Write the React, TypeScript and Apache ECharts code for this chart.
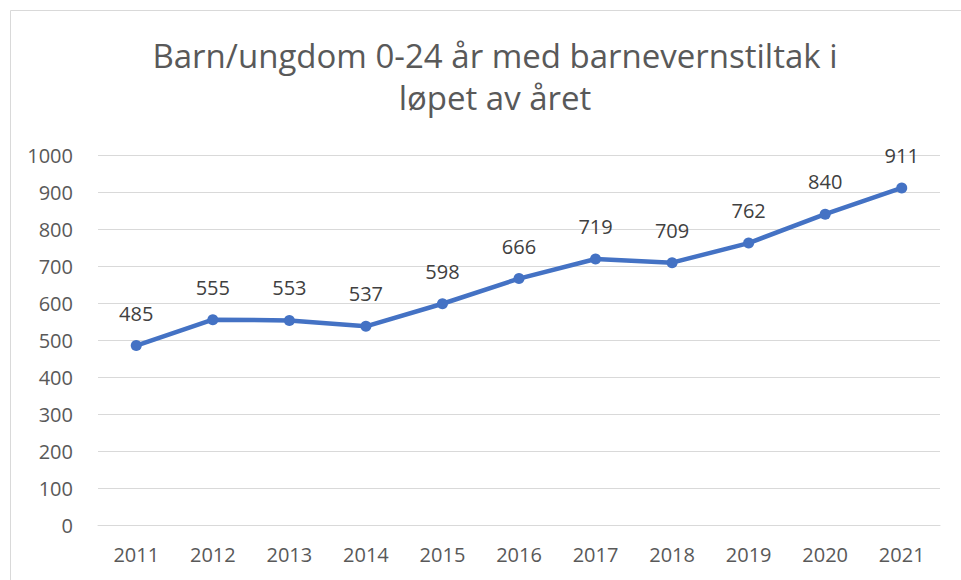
import React, { useEffect, useRef } from "react";
import * as echarts from "echarts";

const titleText = "Barn/ungdom 0-24 år med barnevernstiltak i\nløpet av året";
const years = ["2011", "2012", "2013", "2014", "2015", "2016", "2017", "2018", "2019", "2020", "2021"];
const values = [485, 555, 553, 537, 598, 666, 719, 709, 762, 840, 911];

export default function App() {
  const ref = useRef<HTMLDivElement>(null);
  useEffect(() => {
    document.body.style.margin = "0";
    const chart = echarts.init(ref.current!, null, { renderer: "svg" });
    const font = "'Open Sans', 'Noto Sans', sans-serif";
    chart.setOption({
      animation: false,
      backgroundColor: "#ffffff",
      graphic: [
        {
          type: "rect",
          shape: { x: 10.5, y: 10.5, width: 1000, height: 1000 },
          style: { fill: "none", stroke: "#d9d9d9", lineWidth: 1 },
          silent: true,
        },
      ],
      title: {
        text: titleText,
        left: 490,
        textAlign: "center",
        top: 29,
        textStyle: {
          fontFamily: font,
          fontSize: 33,
          fontWeight: "normal",
          color: "#595959",
          lineHeight: 42,
        },
      },
      grid: { left: 98, right: 21, top: 155, bottom: 55 },
      xAxis: {
        type: "category",
        data: years,
        boundaryGap: true,
        axisLine: { show: true, lineStyle: { color: "#d9d9d9", width: 1 } },
        axisTick: { show: false },
        axisLabel: { color: "#595959", fontSize: 20, fontFamily: font, margin: 19 },
      },
      yAxis: {
        type: "value",
        min: 0,
        max: 1000,
        interval: 100,
        axisLine: { show: false },
        axisTick: { show: false },
        splitLine: { lineStyle: { color: "#d9d9d9", width: 1 } },
        axisLabel: {
          color: "#595959",
          fontSize: 20,
          fontFamily: font,
          margin: 25,
          formatter: (v: number) => String(v),
        },
      },
      series: [
        {
          type: "line",
          data: values,
          symbol: "circle",
          symbolSize: 11,
          lineStyle: { color: "#4472c4", width: 4.5 },
          itemStyle: { color: "#4472c4" },
          label: {
            show: true,
            position: "top",
            distance: 17,
            color: "#404040",
            fontSize: 20,
            fontFamily: font,
          },
        },
      ],
    });
    return () => chart.dispose();
  }, []);
  return <div ref={ref} style={{ width: 961, height: 580 }} />;
}
